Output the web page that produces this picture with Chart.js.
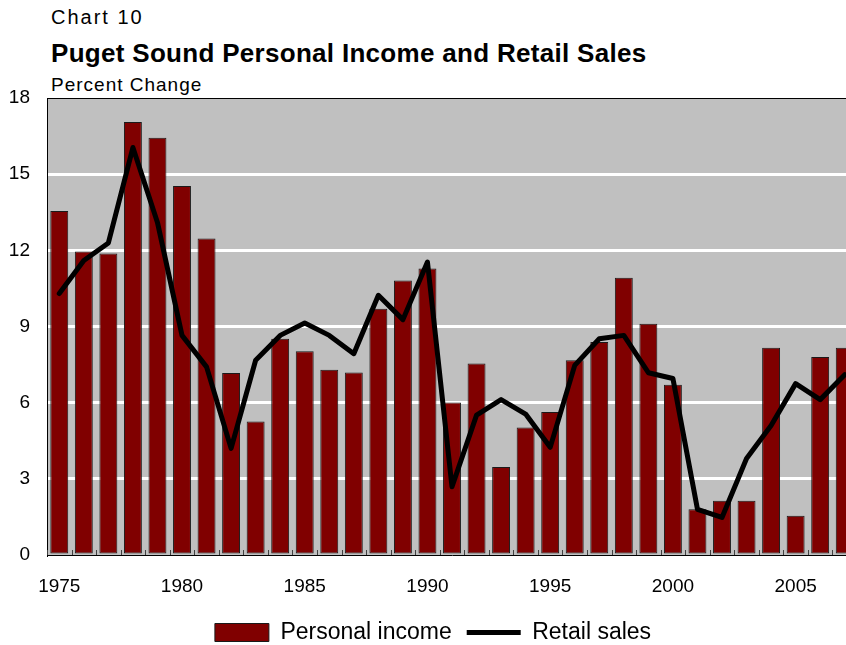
<!DOCTYPE html>
<html>
<head>
<meta charset="utf-8">
<title>Puget Sound Personal Income and Retail Sales</title>
<script src="https://cdn.jsdelivr.net/npm/chart.js@4.4.1/dist/chart.umd.min.js"></script>
<style>
    body { margin: 0; overflow: hidden; background: #fff; font-family: 'Liberation Sans', Arial, sans-serif; }
    .head { position: absolute; left: 51px; color: #000; white-space: nowrap; }
    #chartNo { top: 7px; font-size: 20px; line-height: 20px; letter-spacing: 2px; }
    #chartTitle { top: 40px; font-size: 26px; line-height: 26px; font-weight: bold; letter-spacing: 0.3px; }
    #unitLabel { top: 75px; font-size: 19px; line-height: 19px; letter-spacing: 1px; }
    #wrap { position: absolute; left: 0; top: 0; width: 870px; height: 654px; }
</style>
</head>
<body>
<div class="head" id="chartNo">Chart 10</div>
<div class="head" id="chartTitle">Puget Sound Personal Income and Retail Sales</div>
<div class="head" id="unitLabel">Percent Change</div>
<div id="wrap"><canvas id="pugetChart"></canvas></div>
<script>
// Years 1975-2007, percent change
var years = [1975, 1976, 1977, 1978, 1979, 1980, 1981, 1982, 1983, 1984, 1985,
    1986, 1987, 1988, 1989, 1990, 1991, 1992, 1993, 1994, 1995, 1996,
    1997, 1998, 1999, 2000, 2001, 2002, 2003, 2004, 2005, 2006, 2007];
var personalIncome = [13.55, 11.95, 11.88, 17.05, 16.43, 14.53, 12.47, 7.17, 5.26, 8.52, 8.03,
    7.30, 7.19, 9.70, 10.81, 11.28, 6.01, 7.54, 3.47, 5.02, 5.63, 7.67,
    8.39, 10.92, 9.11, 6.71, 1.80, 2.14, 2.14, 8.16, 1.55, 7.80, 8.16];
var retailSales = [10.3, 11.6, 12.29, 16.05, 13.1, 8.65, 7.41, 4.2, 7.67, 8.65, 9.14,
    8.65, 7.93, 10.23, 9.27, 11.54, 2.69, 5.51, 6.12, 5.55, 4.24, 7.47,
    8.52, 8.65, 7.18, 6.95, 1.80, 1.48, 3.80, 5.1, 6.75, 6.12, 7.1];
var yTicks = [0, 3, 6, 9, 12, 15, 18];

// grey plot background, black top edge and small inward ticks between years
var plotFrame = {
    id: 'plotFrame',
    beforeDraw: function(chart) {
        var a = chart.chartArea;
        var ctx = chart.ctx;
        ctx.save();
        ctx.fillStyle = '#c0c0c0';
        ctx.fillRect(a.left, a.top, a.right - a.left, a.bottom - a.top);
        ctx.restore();
    },
    beforeDatasetsDraw: function(chart) {
        var a = chart.chartArea;
        var ctx = chart.ctx;
        var x = chart.scales.x;
        var step = x.width / years.length;
        ctx.save();
        ctx.strokeStyle = '#404040';
        ctx.lineWidth = 1;
        ctx.beginPath();
        for (var i = 0; i <= years.length; i++) {
            var px = Math.round(x.getPixelForValue(i) - step / 2) + 0.5;
            ctx.moveTo(px, a.bottom);
            ctx.lineTo(px, a.bottom - 5);
        }
        ctx.stroke();
        ctx.restore();
    },
    afterDraw: function(chart) {
        var a = chart.chartArea;
        var ctx = chart.ctx;
        ctx.save();
        ctx.strokeStyle = '#000';
        ctx.lineWidth = 1;
        ctx.beginPath();
        ctx.moveTo(a.left, Math.round(a.top) + 0.5);
        ctx.lineTo(a.right, Math.round(a.top) + 0.5);
        ctx.stroke();
        ctx.restore();
    }
};

Chart.defaults.font.family = "'Liberation Sans', Arial, sans-serif";
Chart.defaults.color = '#000';

var ctx = document.getElementById('pugetChart').getContext('2d');
var pugetChart = new Chart(ctx, {
    type: 'bar',
    data: {
        labels: years,
        datasets: [{
            type: 'bar',
            label: 'Personal income',
            data: personalIncome,
            backgroundColor: '#800000',
            borderColor: '#1a1a1a',
            borderWidth: 1,
            borderSkipped: false,
            categoryPercentage: 1,
            barPercentage: 0.73,
            order: 2
        }, {
            type: 'line',
            label: 'Retail sales',
            data: retailSales,
            borderColor: '#000',
            backgroundColor: '#000',
            borderWidth: 5,
            borderJoinStyle: 'round',
            borderCapStyle: 'round',
            pointRadius: 0,
            tension: 0,
            fill: false,
            order: 1
        }]
    },
    options: {
        responsive: true,
        maintainAspectRatio: false,
        animation: false,
        layout: {
            padding: { left: 9, right: 13, top: 98, bottom: 0 }
        },
        scales: {
            x: {
                offset: true,
                grid: { display: false, drawTicks: false },
                border: { display: true, color: '#000', width: 1 },
                ticks: {
                    autoSkip: false,
                    maxRotation: 0,
                    padding: 12.4,
                    font: { size: 19, lineHeight: 2.03 },
                    callback: function(value, index) {
                        var y = years[index];
                        return y % 5 === 0 ? String(y) : '';
                    }
                },
                afterFit: function(scale) {
                    scale.height = 51;
                    scale.paddingLeft = 0;
                    scale.paddingRight = 0;
                }
            },
            y: {
                min: 0,
                max: 18,
                afterBuildTicks: function(scale) {
                    scale.ticks = yTicks.map(function(v) { return { value: v }; });
                },
                grid: {
                    drawTicks: false,
                    lineWidth: 3,
                    color: function(c) {
                        var v = c.tick ? c.tick.value : null;
                        return (v === 0 || v === 18) ? 'rgba(0,0,0,0)' : '#ffffff';
                    }
                },
                border: { display: true, color: '#000', width: 1 },
                ticks: {
                    padding: 17,
                    font: { size: 19 }
                },
                afterFit: function(scale) {
                    scale.width = 38;
                    scale.paddingTop = 0;
                    scale.paddingBottom = 0;
                }
            }
        },
        plugins: {
            legend: {
                position: 'bottom',
                labels: {
                    usePointStyle: true,
                    pointStyleWidth: 54,
                    boxHeight: 18,
                    padding: 15,
                    font: { size: 23 },
                    color: '#000',
                    sort: function(a, b) { return a.datasetIndex - b.datasetIndex; },
                    generateLabels: function(chart) {
                        var items = Chart.defaults.plugins.legend.labels.generateLabels(chart);
                        items.forEach(function(item) {
                            item.pointStyle = item.datasetIndex === 0 ? 'rect' : 'line';
                        });
                        return items;
                    }
                }
            },
            tooltip: { enabled: false }
        }
    },
    plugins: [plotFrame]
});
</script>
</body>
</html>
